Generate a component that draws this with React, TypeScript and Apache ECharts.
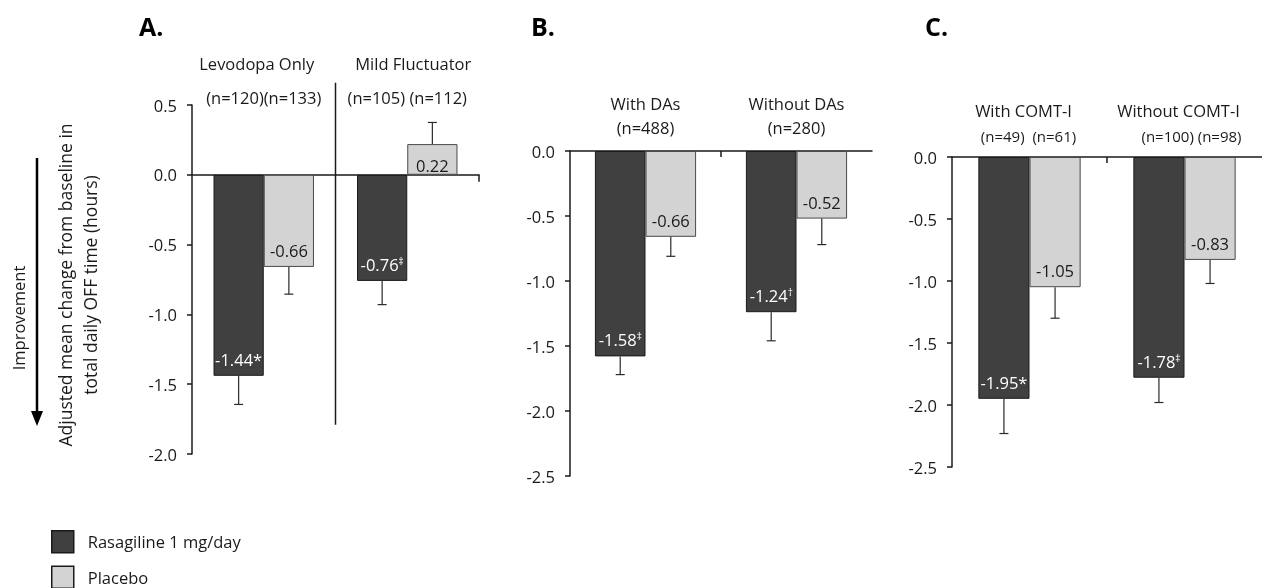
import React, { useEffect, useRef } from "react";
import * as echarts from "echarts";

// ---------- data ----------
const seriesNames = ["Rasagiline 1 mg/day", "Placebo"];
const panelTitles = ["A.", "B.", "C."];

const catsA = ["Levodopa Only", "Mild Fluctuator"];
const nA = ["(n=120)(n=133)", "(n=105) (n=112)"];
const rasaA = [-1.44, -0.76];
const rasaErrA = [-1.645, -0.93];
const rasaMarkA = ["*", "‡"];
const placA = [-0.66, 0.22];
const placErrA = [-0.855, 0.375];

const catsB = ["With DAs", "Without DAs"];
const nB = ["(n=488)", "(n=280)"];
const rasaB = [-1.58, -1.24];
const rasaErrB = [-1.72, -1.46];
const rasaMarkB = ["‡", "†"];
const placB = [-0.66, -0.52];
const placErrB = [-0.81, -0.72];

const catsC = ["With COMT-I", "Without COMT-I"];
const nC = ["(n=49)  (n=61)", "(n=100) (n=98)"];
const rasaC = [-1.95, -1.78];
const rasaErrC = [-2.23, -1.98];
const rasaMarkC = ["*", "‡"];
const placC = [-1.05, -0.83];
const placErrC = [-1.3, -1.02];

const yMin = [-2.0, -2.5, -2.5];
const yMax = [0.5, 0.0, 0.0];
const yStep = 0.5;

const yAxisTitle = "Adjusted mean change from baseline in\ntotal daily OFF time (hours)";
const improvementText = "Improvement";

// ---------- layout / style ----------
const FONT = "'Open Sans', 'Noto Sans', sans-serif";
const DARK = "#404040";
const LIGHT = "#d3d3d3";
const INK = "#1a1a1a";

const layouts = [
  { grid: { left: 192, top: 105, width: 287, height: 349 }, gap: 0.3, lh: 34, cFont: 16.5, nFont: 16.5, margin: -9, catShift: [-7, 6], nShift: [0, 0], titleX: 139 },
  { grid: { left: 570, top: 151, width: 302, height: 325 }, gap: 0.33, lh: 24, cFont: 16.5, nFont: 16.5, margin: 12, catShift: [0, 0], nShift: [0, 0], titleX: 531 },
  { grid: { left: 952, top: 157, width: 319, height: 310 }, gap: 0.34, lh: 26, cFont: 16.5, nFont: 15, margin: 8, catShift: [-6, -6], nShift: [-1, 7], titleX: 925 },
];

const panels = [
  { cats: catsA, ns: nA, rasa: rasaA, rasaErr: rasaErrA, marks: rasaMarkA, plac: placA, placErr: placErrA },
  { cats: catsB, ns: nB, rasa: rasaB, rasaErr: rasaErrB, marks: rasaMarkB, plac: placB, placErr: placErrB },
  { cats: catsC, ns: nC, rasa: rasaC, rasaErr: rasaErrC, marks: rasaMarkC, plac: placC, placErr: placErrC },
];

function shiftPad(d: number) {
  return d >= 0 ? [0, 0, 0, 2 * d] : [0, -2 * d, 0, 0];
}

function errRenderer(side: number, gapFrac: number) {
  return (_params: any, api: any) => {
    const i = api.value(0);
    const mean = api.value(1);
    const end = api.value(2);
    const catW = api.size([1, 0])[0];
    const bw = (catW * (1 - gapFrac)) / 2;
    const p0 = api.coord([i, mean]);
    const p1 = api.coord([i, end]);
    const x = p0[0] + (side * bw) / 2;
    const st = { stroke: "#2a2a2a", lineWidth: 1.2 };
    return {
      type: "group",
      children: [
        { type: "line", shape: { x1: x, y1: p0[1], x2: x, y2: p1[1] }, style: st },
        { type: "line", shape: { x1: x - 4.5, y1: p1[1], x2: x + 4.5, y2: p1[1] }, style: st },
      ],
    };
  };
}

export default function App() {
  const ref = useRef<HTMLDivElement>(null);

  useEffect(() => {
    if (!ref.current) return;
    const chart = echarts.init(ref.current, undefined, { renderer: "svg" });

    const grids: any[] = [];
    const xAxes: any[] = [];
    const yAxes: any[] = [];
    const series: any[] = [];

    panels.forEach((p, g) => {
      const L = layouts[g];
      grids.push({ ...L.grid, containLabel: false });
      xAxes.push({
        type: "category",
        gridIndex: g,
        data: p.cats,
        position: "bottom",
        axisLine: { onZero: true, lineStyle: { color: INK, width: 1.5 } },
        axisTick: { show: false },
        axisLabel: { show: false },
        splitLine: { show: false },
      });
      const rich: any = {};
      [0, 1].forEach((k) => {
        rich["c" + k] = { fontSize: L.cFont, lineHeight: L.lh, color: INK, fontFamily: FONT, padding: shiftPad(L.catShift[k]) };
        rich["n" + k] = { fontSize: L.nFont, lineHeight: L.lh, color: INK, fontFamily: FONT, padding: shiftPad(L.nShift[k]) };
      });
      xAxes.push({
        type: "category",
        gridIndex: g,
        data: p.cats,
        position: "top",
        axisLine: { show: false, onZero: false },
        axisTick: { show: false },
        splitLine: { show: false },
        axisLabel: {
          show: true,
          interval: 0,
          margin: L.margin,
          formatter: (v: string, idx: number) => `{c${idx}|${v}}\n{n${idx}|${p.ns[idx]}}`,
          rich,
        },
      });
      yAxes.push({
        type: "value",
        gridIndex: g,
        min: yMin[g],
        max: yMax[g],
        interval: yStep,
        axisLine: { show: true, lineStyle: { color: INK, width: 1.5 } },
        axisTick: { show: true, length: 5, lineStyle: { color: INK, width: 1.5 } },
        axisLabel: {
          margin: 15,
          fontSize: 16.5,
          color: INK,
          fontFamily: FONT,
          formatter: (v: number) => v.toFixed(1),
        },
        splitLine: { show: false },
      });

      const labelBase = { show: true, position: "insideBottom", distance: 8, fontSize: 16.5, fontFamily: FONT };
      series.push({
        type: "bar",
        name: seriesNames[0],
        xAxisIndex: 2 * g,
        yAxisIndex: g,
        barGap: "0%",
        barCategoryGap: Math.round(L.gap * 100) + "%",
        itemStyle: { color: DARK, borderColor: "#1a1a1a", borderWidth: 1 },
        data: p.rasa.map((v) => ({ value: v, label: v > 0 ? { distance: 1 } : undefined })),
        label: {
          ...labelBase,
          color: "#ffffff",
          formatter: (prm: any) => {
            const m = p.marks[prm.dataIndex];
            const val = prm.value.toFixed(2);
            return m === "*" ? `{v|${val}*}` : `{v|${val}}{s|${m}}`;
          },
          rich: {
            v: { fontSize: 16.5, color: "#ffffff", fontFamily: FONT },
            s: { fontSize: 10, color: "#ffffff", fontFamily: FONT, verticalAlign: "top" },
          },
        },
        z: 2,
      });
      series.push({
        type: "bar",
        name: seriesNames[1],
        xAxisIndex: 2 * g,
        yAxisIndex: g,
        barGap: "0%",
        barCategoryGap: Math.round(L.gap * 100) + "%",
        itemStyle: { color: LIGHT, borderColor: "#4a4a4a", borderWidth: 1 },
        data: p.plac.map((v) => ({ value: v, label: v > 0 ? { distance: 1 } : undefined })),
        label: {
          ...labelBase,
          color: INK,
          formatter: (prm: any) => prm.value.toFixed(2),
        },
        z: 2,
      });
      series.push({
        type: "custom",
        xAxisIndex: 2 * g,
        yAxisIndex: g,
        renderItem: errRenderer(-1, L.gap),
        encode: { x: 0, y: [1, 2] },
        data: p.rasa.map((v, i) => [i, v, p.rasaErr[i]]),
        z: 3,
        silent: true,
      });
      series.push({
        type: "custom",
        xAxisIndex: 2 * g,
        yAxisIndex: g,
        renderItem: errRenderer(1, L.gap),
        encode: { x: 0, y: [1, 2] },
        data: p.plac.map((v, i) => [i, v, p.placErr[i]]),
        z: 3,
        silent: true,
      });
    });

    chart.setOption({
      animation: false,
      textStyle: { fontFamily: FONT },
      grid: grids,
      xAxis: xAxes,
      yAxis: yAxes,
      series,
      legend: {
        data: seriesNames,
        orient: "vertical",
        left: 51,
        top: 530,
        height: 80,
        itemWidth: 22,
        itemHeight: 22,
        itemGap: 12,
        icon: "rect",
        padding: 0,
        itemStyle: { borderColor: "#1a1a1a", borderWidth: 1.5 },
        textStyle: { fontSize: 16.5, color: INK, fontFamily: FONT, padding: [0, 0, 0, 9] },
      },
    });

    const gfx: any[] = [];
    panels.forEach((p, g) => {
      const c0 = chart.convertToPixel({ xAxisIndex: 2 * g }, p.cats[0]) as unknown as number;
      const c1 = chart.convertToPixel({ xAxisIndex: 2 * g }, p.cats[1]) as unknown as number;
      const y0 = chart.convertToPixel({ yAxisIndex: g }, 0) as unknown as number;
      const mid = (c0 + c1) / 2;
      if (g === 0) {
        const yt = chart.convertToPixel({ yAxisIndex: 0 }, 0.66) as unknown as number;
        const yb = chart.convertToPixel({ yAxisIndex: 0 }, -1.79) as unknown as number;
        gfx.push({ type: "line", shape: { x1: mid, y1: yt, x2: mid, y2: yb }, style: { stroke: INK, lineWidth: 1.5 }, z: 10 });
        const endX = c1 + (c1 - c0) / 2;
        gfx.push({ type: "line", shape: { x1: endX, y1: y0, x2: endX, y2: y0 + 7 }, style: { stroke: INK, lineWidth: 1.5 }, z: 10 });
      } else {
        gfx.push({ type: "line", shape: { x1: mid, y1: y0, x2: mid, y2: y0 + 6 }, style: { stroke: INK, lineWidth: 1.5 }, z: 10 });
      }
      gfx.push({
        type: "text",
        x: layouts[g].titleX,
        y: 26,
        style: { text: panelTitles[g], fontSize: 25, fontWeight: "bold", fill: "#000", fontFamily: FONT, align: "left", verticalAlign: "middle" },
      });
    });
    gfx.push({
      type: "text",
      x: 77,
      y: 285,
      rotation: Math.PI / 2,
      style: { text: yAxisTitle, fontSize: 17.5, lineHeight: 25, fill: INK, fontFamily: FONT, align: "center", verticalAlign: "middle" },
    });
    gfx.push({
      type: "text",
      x: 18,
      y: 318,
      rotation: Math.PI / 2,
      style: { text: improvementText, fontSize: 16.5, fill: INK, fontFamily: FONT, align: "center", verticalAlign: "middle" },
    });
    gfx.push({ type: "line", shape: { x1: 37, y1: 158, x2: 37, y2: 414 }, style: { stroke: "#000", lineWidth: 2.5 } });
    gfx.push({ type: "polygon", shape: { points: [[31, 411], [43, 411], [37, 426]] }, style: { fill: "#000" } });

    chart.setOption({ graphic: gfx });

    return () => chart.dispose();
  }, []);

  return <div ref={ref} style={{ position: "fixed", left: 0, top: 0, width: 1262, height: 588 }} />;
}
